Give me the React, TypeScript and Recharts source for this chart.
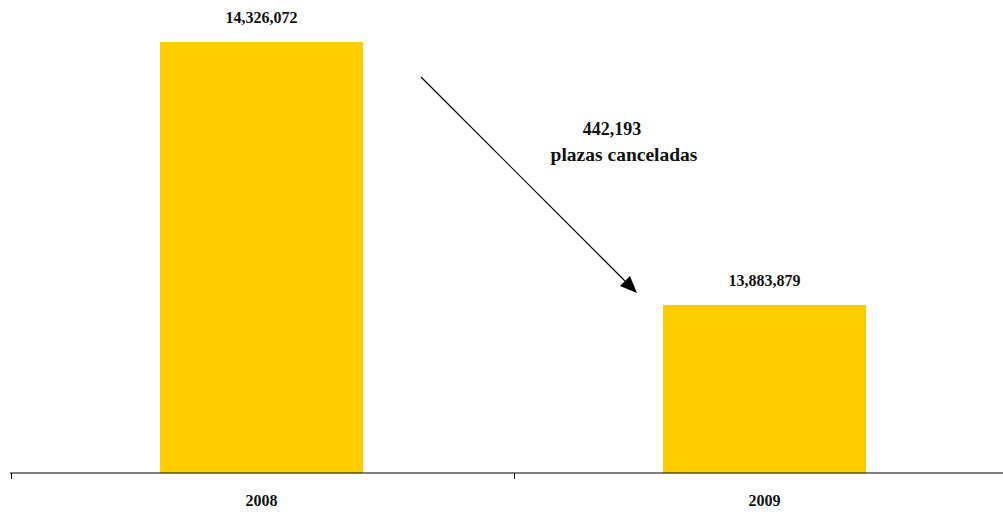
import React from 'react';
import { BarChart, Bar, XAxis, YAxis, LabelList, Customized } from 'recharts';

// Plazas registradas por año
const years = ['2008', '2009'];
const plazas = [14326072, 13883879];
const cancelledLabel = '442,193';
const cancelledText = 'plazas canceladas';

const data = years.map((year, i) => ({ year, plazas: plazas[i] }));

const FONT = '"Liberation Serif", "Times New Roman", serif';
const CHART_W = 1030;
const CHART_H = 512;
const MARGIN = { top: 0, right: 14, left: 10, bottom: 9 };
const BAND = (CHART_W - MARGIN.left - MARGIN.right) / years.length;

const fmt = (v: number) => v.toLocaleString('en-US');

const YearTick = (props: any) => {
  const { x, y, payload } = props;
  const tx = Math.round(x - BAND / 2) + 1.5;
  return (
    <g>
      <line x1={tx} x2={tx} y1={y} y2={y + 6} stroke="#000" strokeWidth={1} />
      <text x={x} y={y + 33} textAnchor="middle" fontFamily={FONT} fontWeight="bold" fontSize={16} fill="#111">
        {payload.value}
      </text>
    </g>
  );
};

const Annotation = () => {
  const x1 = 421, y1 = 77, x2 = 637, y2 = 293;
  const ang = Math.atan2(y2 - y1, x2 - x1);
  const len = 17, half = 7;
  const bx = x2 - len * Math.cos(ang);
  const by = y2 - len * Math.sin(ang);
  const px = -Math.sin(ang) * half;
  const py = Math.cos(ang) * half;
  return (
    <g>
      <line x1={x1} y1={y1} x2={bx} y2={by} stroke="#000" strokeWidth={1.2} />
      <polygon points={`${x2},${y2} ${bx + px},${by + py} ${bx - px},${by - py}`} fill="#000" />
      <text x={612} y={135} textAnchor="middle" fontFamily={FONT} fontWeight="bold" fontSize={18} fill="#111">
        {cancelledLabel}
      </text>
      <text x={624} y={161} textAnchor="middle" fontFamily={FONT} fontWeight="bold" fontSize={19.5} fill="#111">
        {cancelledText}
      </text>
    </g>
  );
};

export default function App() {
  return (
    <div style={{ position: 'absolute', left: 0, top: 0, width: 1003, height: 512, overflow: 'hidden', background: '#fff' }}>
      <BarChart width={CHART_W} height={CHART_H} data={data} margin={MARGIN}>
        <XAxis
          dataKey="year"
          axisLine={{ stroke: '#000', strokeWidth: 1.2 }}
          tickLine={false}
          tickSize={0}
          tickMargin={0}
          height={30}
          tick={<YearTick />}
          interval={0}
        />
        <YAxis hide type="number" domain={[13601400, 14396700]} allowDataOverflow />
        <Bar dataKey="plazas" fill="#FFCC00" barSize={203} isAnimationActive={false}>
          <LabelList
            dataKey="plazas"
            position="top"
            offset={19}
            formatter={(v: any) => fmt(Number(v))}
            style={{ fontFamily: FONT, fontWeight: 'bold', fontSize: 16, fill: '#111' }}
          />
        </Bar>
        <Customized component={Annotation} />
      </BarChart>
    </div>
  );
}
